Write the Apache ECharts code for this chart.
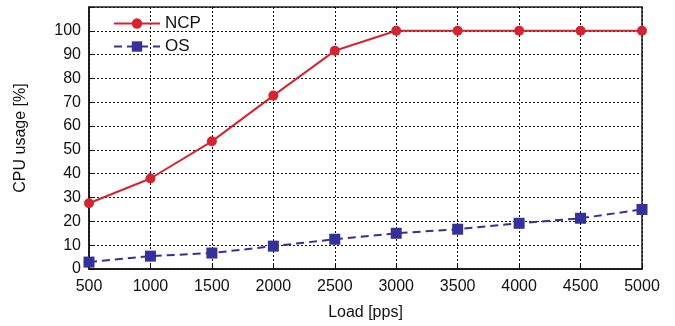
<!DOCTYPE html>
<html>
<head>
<meta charset="utf-8">
<script src="https://cdn.jsdelivr.net/npm/echarts@6/dist/echarts.min.js"></script>
<style>
  html, body { margin: 0; padding: 0; background: #fff; }
  #chart { width: 675px; height: 326px; }
</style>
</head>
<body>
<div id="chart"></div>
<script>
const loads = [500, 1000, 1500, 2000, 2500, 3000, 3500, 4000, 4500, 5000];
const ncp = [27.6, 38, 53.6, 72.8, 91.6, 100, 100, 100, 100, 100];
const os = [2.9, 5.4, 6.7, 9.6, 12.5, 15, 16.7, 19.2, 21.3, 25];

const font = 'Liberation Sans';
const chart = echarts.init(document.getElementById('chart'));

// pair x,y for value axis
function pairs(vals) {
  return loads.map((x, i) => [x, vals[i]]);
}

const option = {
  animation: false,
  grid: {
    left: 89, right: 33, top: 7, bottom: 56,
    show: true, borderColor: '#222', borderWidth: 1.5
  },
  legend: {
    orient: 'vertical',
    left: 108, top: 10,
    itemWidth: 46, itemHeight: 13, itemGap: 6,
    textStyle: { fontFamily: font, fontSize: 17, color: '#111' },
    data: ['NCP', 'OS']
  },
  xAxis: {
    type: 'value',
    min: 500, max: 5000, interval: 500,
    name: 'Load [pps]',
    nameLocation: 'middle', nameGap: 36,
    nameTextStyle: { fontFamily: font, fontSize: 16, color: '#111' },
    axisLine: { lineStyle: { color: '#111', width: 1.5 } },
    axisTick: { inside: true, length: 4, lineStyle: { color: '#111' } },
    axisLabel: {
      fontFamily: font, fontSize: 16, color: '#111', margin: 10,
      formatter: v => String(v)
    },
    splitLine: { show: true, lineStyle: { color: '#111', type: [2, 2], width: 1 } }
  },
  yAxis: {
    type: 'value',
    min: 0, max: 110, interval: 10,
    name: 'CPU usage [%]',
    nameLocation: 'middle', nameGap: 60,
    nameTextStyle: { fontFamily: font, fontSize: 16, color: '#111' },
    axisLine: { lineStyle: { color: '#111', width: 1.5 } },
    axisTick: { inside: true, length: 4, lineStyle: { color: '#111' } },
    axisLabel: {
      fontFamily: font, fontSize: 16, color: '#111', margin: 8,
      formatter: v => (v > 100 ? '' : String(v))
    },
    splitLine: { show: true, lineStyle: { color: '#111', type: [2, 2], width: 1 } }
  },
  series: [
    {
      name: 'NCP', type: 'line',
      data: pairs(ncp),
      symbol: 'circle', symbolSize: 10,
      itemStyle: { color: '#d42432' },
      lineStyle: { color: '#d42432', width: 2 }
    },
    {
      name: 'OS', type: 'line',
      data: pairs(os),
      symbol: 'rect', symbolSize: 11,
      itemStyle: { color: '#35309a' },
      lineStyle: { color: '#35309a', width: 2, type: [8, 5] }
    }
  ]
};
chart.setOption(option);
</script>
</body>
</html>
